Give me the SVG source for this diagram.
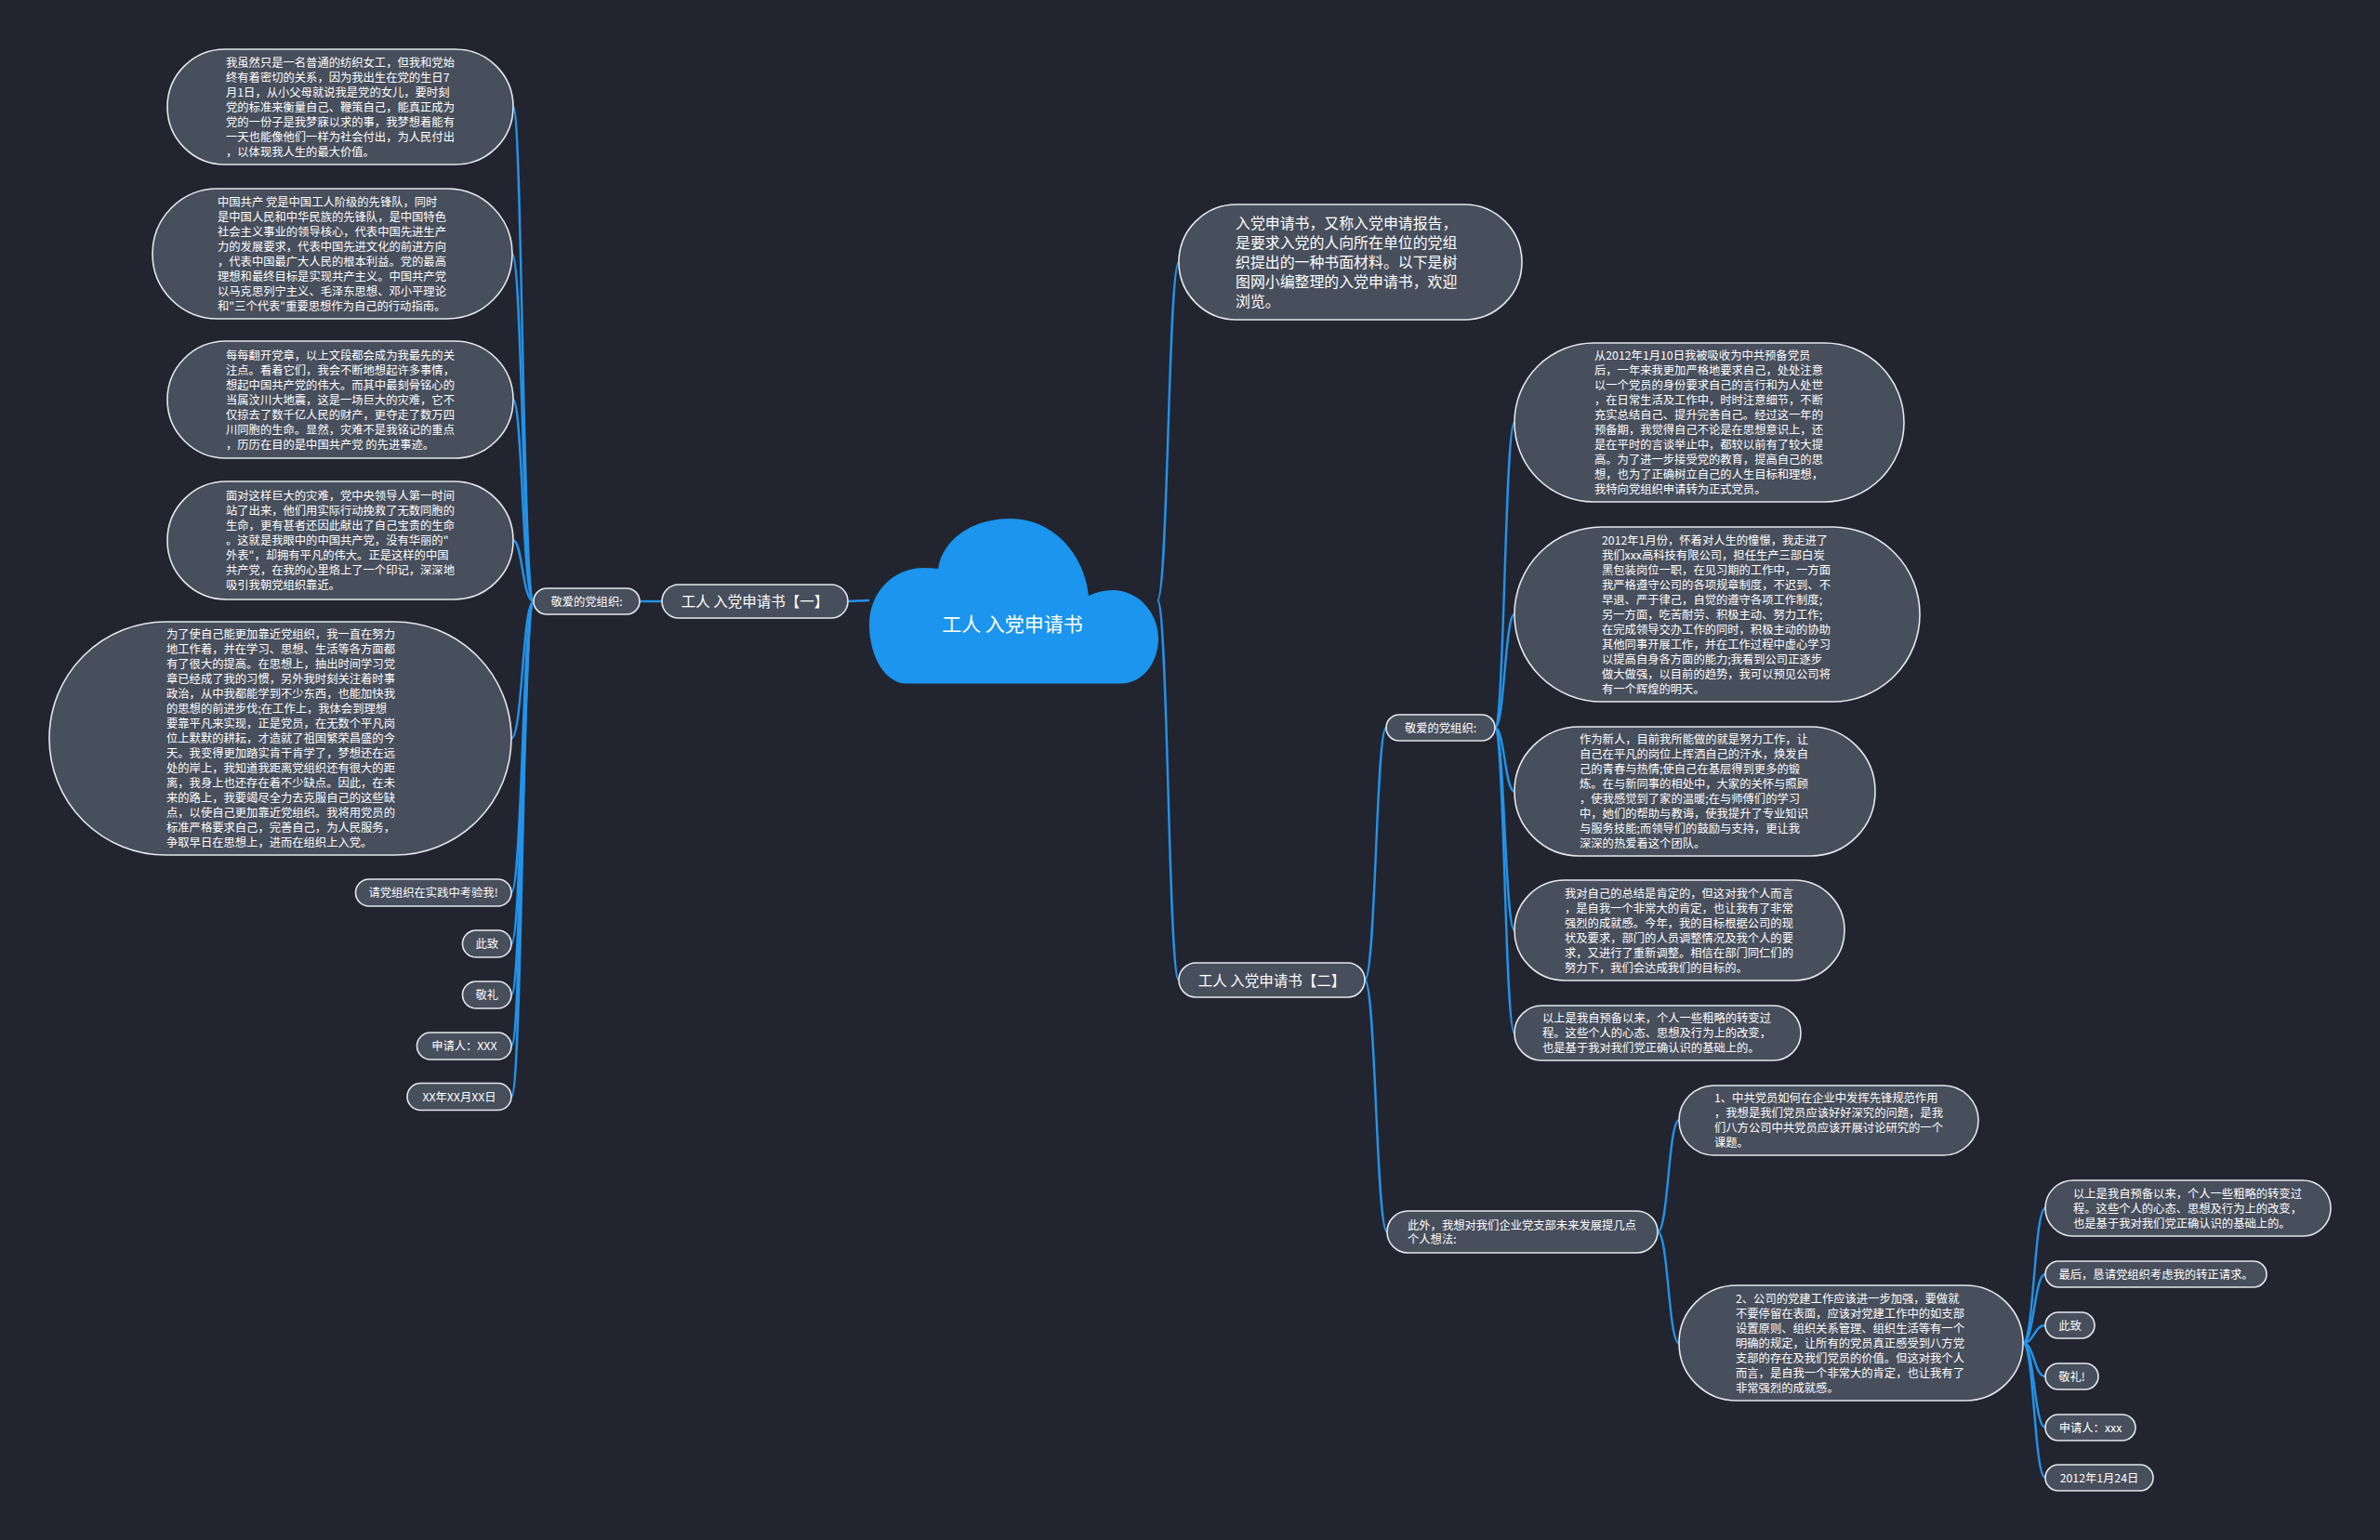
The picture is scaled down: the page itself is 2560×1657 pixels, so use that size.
<svg xmlns="http://www.w3.org/2000/svg" width="2560" height="1657" viewBox="0 0 2560 1657">
<style>
.n{fill:#474e5c;stroke:#e6e8ec;stroke-width:1.6}
.t{font-family:"Noto Sans CJK SC","Noto Sans",sans-serif;fill:#ffffff;font-size:12.3px}
.tm{font-family:"Noto Sans CJK SC","Noto Sans",sans-serif;fill:#ffffff;font-size:12.3px;text-anchor:middle}
.tb{font-family:"Noto Sans CJK SC","Noto Sans",sans-serif;fill:#ffffff;font-size:15.5px;text-anchor:middle}
.ti{font-family:"Noto Sans CJK SC","Noto Sans",sans-serif;fill:#ffffff;font-size:15.9px}
.c{fill:none;stroke:#2393ea;stroke-width:2.4}
</style>
<rect x="0" y="0" width="2560" height="1657" fill="#22252f"/>

<g id="connectors">
<path class="c" d="M935 646 L911 647"/>
<path class="c" d="M712 647 L688 647"/>
<path class="c" d="M574 647 C562 647 562 115 552 115"/>
<path class="c" d="M574 647 C562 647 562 273 551 273"/>
<path class="c" d="M574 647 C562 647 562 430 552 430"/>
<path class="c" d="M574 647 C562 647 562 581.5 552 581.5"/>
<path class="c" d="M574 647 C562 647 562 794.5 550 794.5"/>
<path class="c" d="M574 647 C562 647 562 960.5 550 960.5"/>
<path class="c" d="M574 647 C562 647 562 1015.5 550 1015.5"/>
<path class="c" d="M574 647 C562 647 562 1070.5 550 1070.5"/>
<path class="c" d="M574 647 C562 647 562 1125.5 550 1125.5"/>
<path class="c" d="M574 647 C562 647 562 1180 550 1180"/>
<path class="c" d="M1245 646 C1256.5 646 1256.5 282 1268 282"/>
<path class="c" d="M1245 646 C1256.5 646 1256.5 1054.5 1268 1054.5"/>
<path class="c" d="M1468 1054.5 C1480 1054.5 1480 783 1491 783"/>
<path class="c" d="M1468 1054.5 C1480 1054.5 1480 1325.5 1492 1325.5"/>
<path class="c" d="M1608 783 C1618.5 783 1618.5 454.5 1629 454.5"/>
<path class="c" d="M1608 783 C1618.5 783 1618.5 661 1629 661"/>
<path class="c" d="M1608 783 C1618.5 783 1618.5 851.5 1629 851.5"/>
<path class="c" d="M1608 783 C1618.5 783 1618.5 1001 1629 1001"/>
<path class="c" d="M1608 783 C1618.5 783 1618.5 1111.5 1629 1111.5"/>
<path class="c" d="M1783 1325.5 C1794.5 1325.5 1794.5 1205.5 1806 1205.5"/>
<path class="c" d="M1783 1325.5 C1794.5 1325.5 1794.5 1445 1806 1445"/>
<path class="c" d="M2176 1445 C2188 1445 2188 1300 2200 1300"/>
<path class="c" d="M2176 1445 C2188 1445 2188 1371 2200 1371"/>
<path class="c" d="M2176 1445 C2188 1445 2188 1426 2200 1426"/>
<path class="c" d="M2176 1445 C2188 1445 2188 1481 2200 1481"/>
<path class="c" d="M2176 1445 C2188 1445 2188 1536 2200 1536"/>
<path class="c" d="M2176 1445 C2188 1445 2188 1590 2200 1590"/>
</g>

<g id="root">
<path d="M975 735.5 C952 735.5 935 706 935 672 C935 638 960 611 994 611 C999 611 1004 611.5 1009 612 C1014 580 1046 558 1087 558 C1132 558 1166 595 1171 641 C1179 637 1188 635 1197 635 C1224 635 1246 659 1246 687 C1246 714 1228 735.5 1206 735.5 Z" fill="#1b95ee"/>
<text x="1089" y="679" font-family="'Noto Sans CJK SC','Noto Sans',sans-serif" font-size="21px" fill="#ffffff" text-anchor="middle">工人 入党申请书</text>
</g>

<g id="b1">
<rect class="n" x="712" y="629" width="200" height="36" rx="18"/>
<text class="tb" x="812" y="653">工人 入党申请书【一】</text>
</g>
<g id="b1-salutation">
<rect class="n" x="574" y="633" width="114" height="28" rx="14"/>
<text class="tm" x="631" y="651.7">敬爱的党组织:</text>
</g>

<g id="l1">
<rect class="n" x="180" y="53" width="372" height="124" rx="62"/>
<text class="t" x="243" y="71.7"><tspan x="243">我虽然只是一名普通的纺织女工，但我和党始</tspan><tspan x="243" dy="16">终有着密切的关系，因为我出生在党的生日7</tspan><tspan x="243" dy="16">月1日，从小父母就说我是党的女儿，要时刻</tspan><tspan x="243" dy="16">党的标准来衡量自己、鞭策自己，能真正成为</tspan><tspan x="243" dy="16">党的一份子是我梦寐以求的事，我梦想着能有</tspan><tspan x="243" dy="16">一天也能像他们一样为社会付出，为人民付出</tspan><tspan x="243" dy="16">，以体现我人生的最大价值。</tspan></text>
</g>
<g id="l2">
<rect class="n" x="164" y="203" width="387" height="140" rx="70"/>
<text class="t" x="234" y="221.7"><tspan x="234">中国共产 党是中国工人阶级的先锋队，同时</tspan><tspan x="234" dy="16">是中国人民和中华民族的先锋队，是中国特色</tspan><tspan x="234" dy="16">社会主义事业的领导核心，代表中国先进生产</tspan><tspan x="234" dy="16">力的发展要求，代表中国先进文化的前进方向</tspan><tspan x="234" dy="16">，代表中国最广大人民的根本利益。党的最高</tspan><tspan x="234" dy="16">理想和最终目标是实现共产主义。中国共产党</tspan><tspan x="234" dy="16">以马克思列宁主义、毛泽东思想、邓小平理论</tspan><tspan x="234" dy="16">和"三个代表"重要思想作为自己的行动指南。</tspan></text>
</g>
<g id="l3">
<rect class="n" x="180" y="367" width="372" height="126" rx="63"/>
<text class="t" x="243" y="386.7"><tspan x="243">每每翻开党章，以上文段都会成为我最先的关</tspan><tspan x="243" dy="16">注点。看着它们，我会不断地想起许多事情，</tspan><tspan x="243" dy="16">想起中国共产党的伟大。而其中最刻骨铭心的</tspan><tspan x="243" dy="16">当属汶川大地震，这是一场巨大的灾难，它不</tspan><tspan x="243" dy="16">仅掠去了数千亿人民的财产，更夺走了数万四</tspan><tspan x="243" dy="16">川同胞的生命。显然，灾难不是我铭记的重点</tspan><tspan x="243" dy="16">，历历在目的是中国共产党 的先进事迹。</tspan></text>
</g>
<g id="l4">
<rect class="n" x="180" y="518" width="372" height="127" rx="63.5"/>
<text class="t" x="243" y="538.2"><tspan x="243">面对这样巨大的灾难，党中央领导人第一时间</tspan><tspan x="243" dy="16">站了出来，他们用实际行动挽救了无数同胞的</tspan><tspan x="243" dy="16">生命，更有甚者还因此献出了自己宝贵的生命</tspan><tspan x="243" dy="16">。这就是我眼中的中国共产党，没有华丽的"</tspan><tspan x="243" dy="16">外表"，却拥有平凡的伟大。正是这样的中国</tspan><tspan x="243" dy="16">共产党，在我的心里烙上了一个印记，深深地</tspan><tspan x="243" dy="16">吸引我朝党组织靠近。</tspan></text>
</g>
<g id="l5">
<rect class="n" x="53" y="669" width="497" height="251" rx="125.5"/>
<text class="t" x="179" y="687.2"><tspan x="179">为了使自己能更加靠近党组织，我一直在努力</tspan><tspan x="179" dy="16">地工作着，并在学习、思想、生活等各方面都</tspan><tspan x="179" dy="16">有了很大的提高。在思想上，抽出时间学习党</tspan><tspan x="179" dy="16">章已经成了我的习惯，另外我时刻关注着时事</tspan><tspan x="179" dy="16">政治，从中我都能学到不少东西，也能加快我</tspan><tspan x="179" dy="16">的思想的前进步伐;在工作上，我体会到理想</tspan><tspan x="179" dy="16">要靠平凡来实现，正是党员，在无数个平凡岗</tspan><tspan x="179" dy="16">位上默默的耕耘，才造就了祖国繁荣昌盛的今</tspan><tspan x="179" dy="16">天。我变得更加踏实肯干肯学了，梦想还在远</tspan><tspan x="179" dy="16">处的岸上，我知道我距离党组织还有很大的距</tspan><tspan x="179" dy="16">离，我身上也还存在着不少缺点。因此，在未</tspan><tspan x="179" dy="16">来的路上，我要竭尽全力去克服自己的这些缺</tspan><tspan x="179" dy="16">点，以使自己更加靠近党组织。我将用党员的</tspan><tspan x="179" dy="16">标准严格要求自己，完善自己，为人民服务，</tspan><tspan x="179" dy="16">争取早日在思想上，进而在组织上入党。</tspan></text>
</g>
<g id="l6">
<rect class="n" x="382.5" y="946" width="167.5" height="29" rx="14.5"/>
<text class="tm" x="466" y="965.2">请党组织在实践中考验我!</text>
</g>
<g id="l7">
<rect class="n" x="497.5" y="1001" width="52.5" height="29" rx="14.5"/>
<text class="tm" x="523.8" y="1020.2">此致</text>
</g>
<g id="l8">
<rect class="n" x="497.5" y="1056" width="52.5" height="29" rx="14.5"/>
<text class="tm" x="523.8" y="1075.2">敬礼</text>
</g>
<g id="l9">
<rect class="n" x="448.5" y="1111" width="101.5" height="29" rx="14.5"/>
<text class="tm" x="499.3" y="1130.2">申请人：XXX</text>
</g>
<g id="l10">
<rect class="n" x="438" y="1165.5" width="112" height="29" rx="14.5"/>
<text class="tm" x="494" y="1184.7">XX年XX月XX日</text>
</g>

<g id="intro">
<rect class="n" x="1268" y="220" width="369" height="124" rx="62"/>
<text class="ti" x="1329" y="246"><tspan x="1329">入党申请书，又称入党申请报告，</tspan><tspan x="1329" dy="21">是要求入党的人向所在单位的党组</tspan><tspan x="1329" dy="21">织提出的一种书面材料。以下是树</tspan><tspan x="1329" dy="21">图网小编整理的入党申请书，欢迎</tspan><tspan x="1329" dy="21">浏览。</tspan></text>
</g>

<g id="b2">
<rect class="n" x="1268" y="1036" width="200" height="37" rx="18.5"/>
<text class="tb" x="1368" y="1060.5">工人 入党申请书【二】</text>
</g>
<g id="b2-salutation">
<rect class="n" x="1491" y="769" width="117" height="28" rx="14"/>
<text class="tm" x="1549.5" y="787.7">敬爱的党组织:</text>
</g>

<g id="r1">
<rect class="n" x="1629" y="369" width="419" height="171" rx="85.5"/>
<text class="t" x="1715" y="387.2"><tspan x="1715">从2012年1月10日我被吸收为中共预备党员</tspan><tspan x="1715" dy="16">后，一年来我更加严格地要求自己，处处注意</tspan><tspan x="1715" dy="16">以一个党员的身份要求自己的言行和为人处世</tspan><tspan x="1715" dy="16">，在日常生活及工作中，时时注意细节，不断</tspan><tspan x="1715" dy="16">充实总结自己、提升完善自己。经过这一年的</tspan><tspan x="1715" dy="16">预备期，我觉得自己不论是在思想意识上，还</tspan><tspan x="1715" dy="16">是在平时的言谈举止中，都较以前有了较大提</tspan><tspan x="1715" dy="16">高。为了进一步接受党的教育，提高自己的思</tspan><tspan x="1715" dy="16">想，也为了正确树立自己的人生目标和理想，</tspan><tspan x="1715" dy="16">我特向党组织申请转为正式党员。</tspan></text>
</g>
<g id="r2">
<rect class="n" x="1629" y="567" width="436" height="188" rx="94"/>
<text class="t" x="1723" y="585.7"><tspan x="1723">2012年1月份，怀着对人生的憧憬，我走进了</tspan><tspan x="1723" dy="16">我们xxx高科技有限公司，担任生产三部白炭</tspan><tspan x="1723" dy="16">黑包装岗位一职，在见习期的工作中，一方面</tspan><tspan x="1723" dy="16">我严格遵守公司的各项规章制度，不迟到、不</tspan><tspan x="1723" dy="16">早退、严于律己，自觉的遵守各项工作制度;</tspan><tspan x="1723" dy="16">另一方面，吃苦耐劳、积极主动、努力工作;</tspan><tspan x="1723" dy="16">在完成领导交办工作的同时，积极主动的协助</tspan><tspan x="1723" dy="16">其他同事开展工作，并在工作过程中虚心学习</tspan><tspan x="1723" dy="16">以提高自身各方面的能力;我看到公司正逐步</tspan><tspan x="1723" dy="16">做大做强，以目前的趋势，我可以预见公司将</tspan><tspan x="1723" dy="16">有一个辉煌的明天。</tspan></text>
</g>
<g id="r3">
<rect class="n" x="1629" y="782" width="388" height="139" rx="69.5"/>
<text class="t" x="1699" y="800.2"><tspan x="1699">作为新人，目前我所能做的就是努力工作，让</tspan><tspan x="1699" dy="16">自己在平凡的岗位上挥洒自己的汗水，焕发自</tspan><tspan x="1699" dy="16">己的青春与热情;使自己在基层得到更多的锻</tspan><tspan x="1699" dy="16">炼。在与新同事的相处中，大家的关怀与照顾</tspan><tspan x="1699" dy="16">，使我感觉到了家的温暖;在与师傅们的学习</tspan><tspan x="1699" dy="16">中，她们的帮助与教诲，使我提升了专业知识</tspan><tspan x="1699" dy="16">与服务技能;而领导们的鼓励与支持，更让我</tspan><tspan x="1699" dy="16">深深的热爱着这个团队。</tspan></text>
</g>
<g id="r4">
<rect class="n" x="1629" y="947" width="355" height="108" rx="54"/>
<text class="t" x="1683" y="965.7"><tspan x="1683">我对自己的总结是肯定的，但这对我个人而言</tspan><tspan x="1683" dy="16">，是自我一个非常大的肯定，也让我有了非常</tspan><tspan x="1683" dy="16">强烈的成就感。今年，我的目标根据公司的现</tspan><tspan x="1683" dy="16">状及要求，部门的人员调整情况及我个人的要</tspan><tspan x="1683" dy="16">求，又进行了重新调整。相信在部门同仁们的</tspan><tspan x="1683" dy="16">努力下，我们会达成我们的目标的。</tspan></text>
</g>
<g id="r5">
<rect class="n" x="1629" y="1082" width="308" height="59" rx="29.5"/>
<text class="t" x="1659" y="1100.2"><tspan x="1659">以上是我自预备以来，个人一些粗略的转变过</tspan><tspan x="1659" dy="16">程。这些个人的心态、思想及行为上的改变，</tspan><tspan x="1659" dy="16">也是基于我对我们党正确认识的基础上的。</tspan></text>
</g>

<g id="further">
<rect class="n" x="1492" y="1303" width="291" height="45" rx="22.5"/>
<text class="t" x="1514" y="1322.7"><tspan x="1514">此外，我想对我们企业党支部未来发展提几点</tspan><tspan x="1514" dy="15">个人想法:</tspan></text>
</g>
<g id="p1">
<rect class="n" x="1806" y="1168" width="322" height="75" rx="37.5"/>
<text class="t" x="1844" y="1186.2"><tspan x="1844">1、中共党员如何在企业中发挥先锋规范作用</tspan><tspan x="1844" dy="16">，我想是我们党员应该好好深究的问题，是我</tspan><tspan x="1844" dy="16">们八方公司中共党员应该开展讨论研究的一个</tspan><tspan x="1844" dy="16">课题。</tspan></text>
</g>
<g id="p2">
<rect class="n" x="1806" y="1383" width="370" height="124" rx="62"/>
<text class="t" x="1867" y="1401.7"><tspan x="1867">2、公司的党建工作应该进一步加强，要做就</tspan><tspan x="1867" dy="16">不要停留在表面，应该对党建工作中的如支部</tspan><tspan x="1867" dy="16">设置原则、组织关系管理、组织生活等有一个</tspan><tspan x="1867" dy="16">明确的规定，让所有的党员真正感受到八方党</tspan><tspan x="1867" dy="16">支部的存在及我们党员的价值。但这对我个人</tspan><tspan x="1867" dy="16">而言，是自我一个非常大的肯定，也让我有了</tspan><tspan x="1867" dy="16">非常强烈的成就感。</tspan></text>
</g>
<g id="f1">
<rect class="n" x="2200" y="1270" width="307" height="60" rx="30"/>
<text class="t" x="2230" y="1288.7"><tspan x="2230">以上是我自预备以来，个人一些粗略的转变过</tspan><tspan x="2230" dy="16">程。这些个人的心态、思想及行为上的改变，</tspan><tspan x="2230" dy="16">也是基于我对我们党正确认识的基础上的。</tspan></text>
</g>
<g id="f2">
<rect class="n" x="2200" y="1357" width="238" height="28" rx="14"/>
<text class="tm" x="2319" y="1375.7">最后，恳请党组织考虑我的转正请求。</text>
</g>
<g id="f3">
<rect class="n" x="2200" y="1412" width="53" height="28" rx="14"/>
<text class="tm" x="2226.5" y="1430.7">此致</text>
</g>
<g id="f4">
<rect class="n" x="2200" y="1467" width="57" height="28" rx="14"/>
<text class="tm" x="2228.5" y="1485.7">敬礼!</text>
</g>
<g id="f5">
<rect class="n" x="2200" y="1522" width="97" height="28" rx="14"/>
<text class="tm" x="2248.5" y="1540.7">申请人：xxx</text>
</g>
<g id="f6">
<rect class="n" x="2200" y="1576" width="116" height="28" rx="14"/>
<text class="tm" x="2258" y="1594.7">2012年1月24日</text>
</g>
</svg>
